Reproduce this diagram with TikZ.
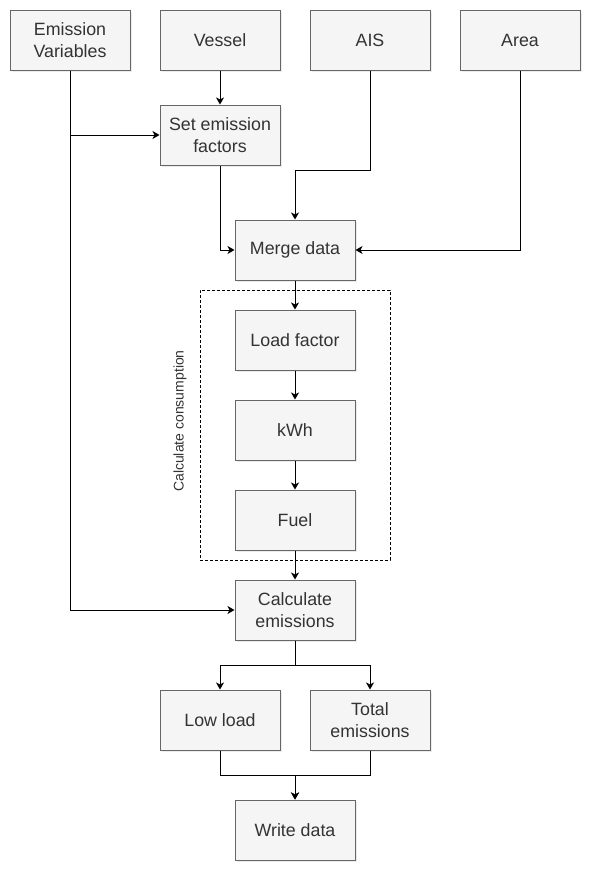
\documentclass[tikz,border=0pt]{standalone}
\usepackage{fontspec}
\setmainfont{Liberation Sans}
\usetikzlibrary{arrows.meta,positioning,shadows}
\definecolor{boxfill}{HTML}{F5F5F5}
\definecolor{boxline}{HTML}{666666}
\definecolor{boxtext}{HTML}{333333}
\tikzset{
     proc node/.style={draw=boxline, fill=boxfill, text=boxtext, line width=1pt,
        minimum width=120pt, minimum height=60pt, inner sep=0pt, align=center,
        font=\fontsize{17.8}{21.4}\selectfont,
        drop shadow={shadow xshift=2pt, shadow yshift=-2pt, opacity=0.15}},
      flow/.style   = {black, line width=1pt, ->, >={Stealth[length=7pt,width=8pt,inset=2pt]}},
      group box/.style = {draw=black, line width=0.8pt, dash pattern=on 3pt off 2pt,
        minimum width=190pt, minimum height=270pt, inner sep=0pt},
      group label/.style = {text=boxtext, rotate=90, font=\fontsize{14}{17}\selectfont},
    }
\begin{document}
\begin{tikzpicture}[x=1pt,y=-1pt]
            \useasboundingbox (0,0) rectangle (592,873);
            \node [group box] (consume) at (295,425) {};
            \node [group label] (consumelabel) at (180,421) {Calculate consumption};

            \node [proc node] (emvar)   at (70,40)   {Emission\\Variables};
            \node [proc node] (vessel)  at (220,40)  {Vessel};
            \node [proc node] (ais)     at (370,40)  {AIS};
            \node [proc node] (area)    at (520,40)  {Area};
            \node [proc node] (setef)   at (220,135) {Set emission\\factors};
            \node [proc node] (merge)   at (295,250) {Merge data};
            \node [proc node] (load)    at (295,340) {Load factor};
            \node [proc node] (kwh)     at (295,430) {kWh};
            \node [proc node] (fuel)    at (295,520) {Fuel};
            \node [proc node] (calcem)  at (295,610) {Calculate\\emissions};
            \node [proc node] (lowload) at (220,720) {Low load};
            \node [proc node] (total)   at (370,720) {Total\\emissions};
            \node [proc node] (write)   at (295,830) {Write data};

            \draw [flow] (vessel) -- (setef);
            \draw [flow] (emvar.south) |- (calcem.west);
            \draw [flow] (emvar.south |- setef.west) -- (setef.west);
            \draw [flow] (setef.south) |- (merge.west);
            \draw [flow] (ais.south) -- ++(0,100) -| (merge.north);
            \draw [flow] (area.south) |- (merge.east);
            \draw [flow] (merge) -- (load);
            \draw [flow] (load) -- (kwh);
            \draw [flow] (kwh) -- (fuel);
            \draw [flow] (fuel) -- (calcem);
            \draw [flow] (calcem.south) -- ++(0,25) -| (lowload.north);
            \draw [flow] (calcem.south) -- ++(0,25) -| (total.north);
            \draw [flow] (lowload.south) -- ++(0,25) -| (write.north);
            \draw [flow] (total.south) -- ++(0,25) -| (write.north);
      \end{tikzpicture}
\end{document}
